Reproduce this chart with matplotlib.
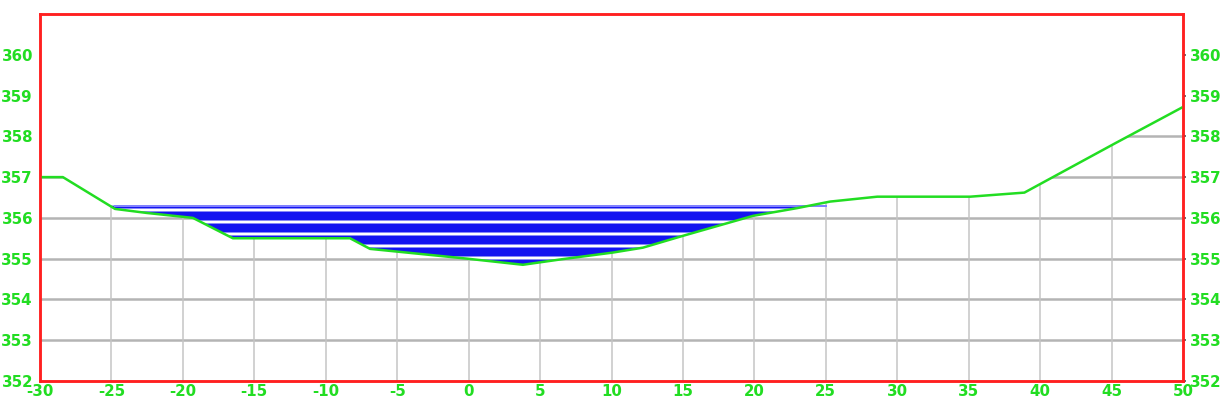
import matplotlib
matplotlib.use("Agg")
import matplotlib.pyplot as plt
from matplotlib import font_manager

# Cross-section: station (m) vs ground elevation (m)
station = [-30, -28.4, -24.75, -22.5, -19.3, -16.5, -8.3, -6.9, -0.1, 3.8, 6.4,
           10.1, 12.2, 15.0, 19.9, 23.0, 25.3, 28.6, 35.1, 38.9, 45.2, 50]
elevation = [357.0, 357.0, 356.22, 356.12, 356.0, 355.5, 355.5, 355.24, 355.0, 354.85, 354.98,
             355.15, 355.27, 355.56, 356.05, 356.24, 356.4, 356.52, 356.52, 356.62, 357.82, 358.72]
water_level = 356.3
water_start, water_end = -24.75, 25.0

x_ticks = list(range(-30, 51, 5))
y_ticks = list(range(352, 361))

names = {f.name for f in font_manager.fontManager.ttflist}
if "Liberation Sans Narrow" in names:
    label_font = dict(family="Liberation Sans Narrow", size=18, weight="bold")
else:
    label_font = dict(family="DejaVu Sans", size=15, weight="bold")

green = "#22dd22"
red = "#ff2020"

fig = plt.figure(figsize=(1227 / 72, 414 / 72), dpi=72)
ax = fig.add_axes([40 / 1227, 33 / 414, 1143 / 1227, 367 / 414])
ax.set_xlim(-30, 50)
ax.set_ylim(352, 361)

# grid, later masked above the ground line
ax.hlines(y_ticks[1:], -30, 50, colors="#b4b4b4", linewidth=2.5, zorder=0.5)
ax.vlines(x_ticks[1:-1], 352, 361, colors="#c4c4c4", linewidth=1.5, zorder=0.5)
ax.fill_between(station, elevation, 361, color="white", linewidth=0, zorder=1)

# water body
plt.rcParams["hatch.linewidth"] = 3
ax.fill_between(station, elevation, water_level,
                where=[e <= water_level for e in elevation], interpolate=True,
                facecolor="#1414f0", edgecolor="white", hatch="-", linewidth=0, zorder=2)
ax.plot([water_start, water_end], [water_level, water_level], color="#8080ff",
        linewidth=2, zorder=2.5)

# ground line
ax.plot(station, elevation, color=green, linewidth=2.5, zorder=3)

ax.set_xticks(x_ticks)
ax.set_xticklabels([str(v) for v in x_ticks], color=green, **label_font)
ax.set_yticks(y_ticks)
ax.set_yticklabels([str(v) for v in y_ticks], color=green, **label_font)
ax.tick_params(axis="x", length=0, pad=3)
ax.tick_params(axis="y", length=0, pad=7)

ax2 = ax.twinx()
ax2.set_ylim(352, 361)
ax2.set_yticks(y_ticks)
ax2.set_yticklabels([str(v) for v in y_ticks], color=green, **label_font)
ax2.tick_params(axis="y", length=3, width=1.5, color="#404040", pad=4)

for a in (ax, ax2):
    for s in a.spines.values():
        s.set_color(red)
        s.set_linewidth(2.5)

fig.savefig("out.png", dpi=72)
